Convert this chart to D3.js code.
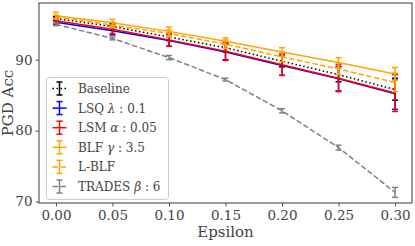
<!DOCTYPE html>
<html>
<head>
<meta charset="utf-8">
<script src="https://cdn.jsdelivr.net/npm/d3@7"></script>
<style>
  body { margin: 0; background: #fff; }
</style>
</head>
<body>
<svg width="415" height="246"></svg>
<script>
const svg = d3.select("svg");
const serif = "DejaVu Serif";

// data
const epsilon = [0, 0.05, 0.10, 0.15, 0.20, 0.25, 0.30];
const baseline = [95.8, 94.7, 93.2, 91.7, 89.8, 87.9, 85.8];
const baselineErr = [0.3, 0.4, 0.5, 0.6, 0.8, 1.0, 1.5];
const lsq = [95.3, 94.1, 92.7, 91.1, 89.2, 87.3, 85.2];
const lsqErr = [0.4, 0.6, 0.8, 1.1, 1.4, 1.7, 2.2];
const lsm = [95.5, 94.3, 92.8, 91.2, 89.3, 87.4, 85.3];
const lsmErr = [0.4, 0.6, 0.9, 1.3, 1.5, 1.9, 2.6];
const blf = [96.2, 95.2, 94.0, 92.6, 91.1, 89.6, 88.0];
const blfErr = [0.5, 0.5, 0.6, 0.5, 0.6, 0.7, 0.9];
const lblf = [96.0, 94.9, 93.7, 92.2, 90.4, 88.7, 86.8];
const lblfErr = [0.3, 0.4, 0.5, 0.6, 0.7, 0.8, 1.3];
const trades = [95.0, 93.0, 90.3, 87.2, 82.8, 77.6, 71.3];
const tradesErr = [0.2, 0.2, 0.3, 0.2, 0.3, 0.35, 0.7];
const xTicks = [0, 0.05, 0.10, 0.15, 0.20, 0.25, 0.30];
const yTicks = [70, 80, 90];

const series = [
  { name: "Baseline", greek: null, val: baseline, err: baselineErr, color: "#000000", dash: "1.5,2.5" },
  { name: "LSQ ", greek: "λ", rest: " : 0.1", val: lsq, err: lsqErr, color: "#0000ff", dash: null },
  { name: "LSM ", greek: "α", rest: " : 0.05", val: lsm, err: lsmErr, color: "#ff0000", dash: null },
  { name: "BLF ", greek: "γ", rest: " : 3.5", val: blf, err: blfErr, color: "#ffa500", dash: null },
  { name: "L-BLF", greek: null, val: lblf, err: lblfErr, color: "#ffa500", dash: "5.5,2.4" },
  { name: "TRADES ", greek: "β", rest: " : 6", val: trades, err: tradesErr, color: "#808080", dash: "5.5,2.4" }
];

const mLeft = 39, mRight = 412, mTop = 3, mBottom = 203;

const x = d3.scaleLinear().domain([-0.015, 0.315]).range([mLeft, mRight]);
const y = d3.scaleLinear().domain([69.8, 98.0]).range([mBottom, mTop]);

// axes
const xAxis = svg.append("g")
  .attr("transform", `translate(0,${mBottom})`)
  .call(d3.axisBottom(x).tickValues(xTicks).tickFormat(d3.format(".2f")).tickSize(3.5).tickPadding(4));
const yAxis = svg.append("g")
  .attr("transform", `translate(${mLeft},0)`)
  .call(d3.axisLeft(y).tickValues(yTicks).tickSize(3.5).tickPadding(3));

[xAxis, yAxis].forEach(a => {
  a.attr("font-family", serif);
  a.select(".domain").remove();
  a.selectAll("line").attr("stroke", "#262626").attr("stroke-width", 0.8);
  a.selectAll("text").attr("font-size", 13.5).attr("fill", "#444");
});

// series
const line = d3.line().x((d, i) => x(epsilon[i])).y(d => y(d));
const cap = 3;

series.forEach(s => {
  const g = svg.append("g");
  g.append("path")
    .datum(s.val)
    .attr("d", line)
    .attr("fill", "none")
    .attr("stroke", s.color)
    .attr("stroke-width", 1.5)
    .attr("stroke-dasharray", s.dash);

  const eb = g.selectAll("g.eb")
    .data(s.val.map((v, i) => ({ x: epsilon[i], v: v, e: s.err[i] })))
    .join("g");
  eb.append("line")
    .attr("x1", d => x(d.x)).attr("x2", d => x(d.x))
    .attr("y1", d => y(d.v - d.e)).attr("y2", d => y(d.v + d.e))
    .attr("stroke", s.color).attr("stroke-width", 1.5);
  [-1, 1].forEach(sign => {
    eb.append("line")
      .attr("x1", d => x(d.x) - cap).attr("x2", d => x(d.x) + cap)
      .attr("y1", d => y(d.v + sign * d.e)).attr("y2", d => y(d.v + sign * d.e))
      .attr("stroke", s.color).attr("stroke-width", 1.5);
  });
});

// frame
svg.append("rect")
  .attr("x", mLeft).attr("y", mTop)
  .attr("width", mRight - mLeft).attr("height", mBottom - mTop)
  .attr("fill", "none").attr("stroke", "#3a3a3a").attr("stroke-width", 1);

// legend
const lg = svg.append("g").attr("font-family", serif);
lg.append("rect")
  .attr("x", 46.5).attr("y", 77.5).attr("width", 122).attr("height", 122)
  .attr("rx", 3)
  .attr("fill", "#fff").attr("fill-opacity", 0.8)
  .attr("stroke", "#cccccc").attr("stroke-width", 1);

series.forEach((s, i) => {
  const cy = 88.5 + i * 19.6;
  lg.append("line")
    .attr("x1", 52.5).attr("x2", 66.5).attr("y1", cy).attr("y2", cy)
    .attr("stroke", s.color).attr("stroke-width", 1.5)
    .attr("stroke-dasharray", s.dash);
  lg.append("line")
    .attr("x1", 59.5).attr("x2", 59.5).attr("y1", cy - 6.5).attr("y2", cy + 6.5)
    .attr("stroke", s.color).attr("stroke-width", 1.5);
  [-6.5, 6.5].forEach(o => {
    lg.append("line")
      .attr("x1", 56.5).attr("x2", 62.5).attr("y1", cy + o).attr("y2", cy + o)
      .attr("stroke", s.color).attr("stroke-width", 1.5);
  });
  const t = lg.append("text")
    .attr("x", 78).attr("y", cy + 4.5)
    .attr("font-size", 12)
    .attr("fill", "#444");
  t.append("tspan").text(s.name);
  if (s.greek) {
    t.append("tspan").attr("font-style", "italic").text(s.greek);
    t.append("tspan").text(s.rest);
  }
});

// axis titles
svg.append("text")
  .attr("x", (mLeft + mRight) / 2).attr("y", 237)
  .attr("text-anchor", "middle")
  .attr("font-family", serif)
  .attr("font-size", 15)
  .attr("fill", "#444")
  .text("Epsilon");
svg.append("text")
  .attr("transform", `translate(13,${(mTop + mBottom) / 2}) rotate(-90)`)
  .attr("text-anchor", "middle")
  .attr("font-family", serif)
  .attr("font-size", 15)
  .attr("fill", "#444")
  .text("PGD Acc");
</script>
</body>
</html>
